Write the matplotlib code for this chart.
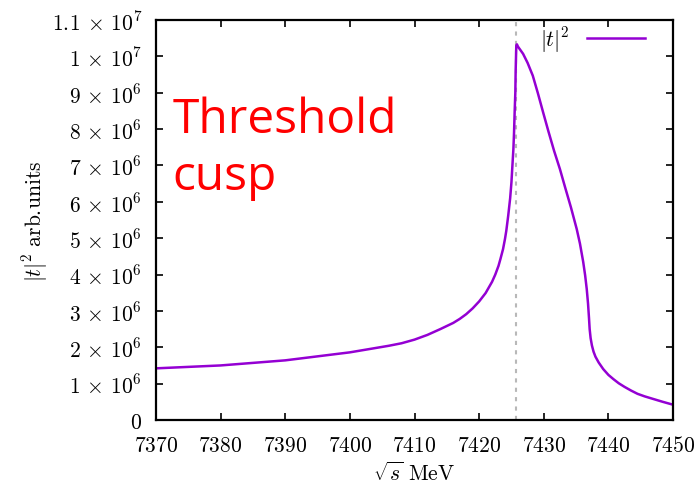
import matplotlib
matplotlib.use("Agg")
import matplotlib.pyplot as plt
from matplotlib.ticker import FixedLocator

plt.rcParams['mathtext.fontset'] = 'cm'
plt.rcParams['font.family'] = 'DejaVu Serif'

# sqrt(s) in MeV, |t|^2 in units of 1e6
energia = [7370, 7375, 7380, 7385, 7390, 7395, 7400, 7403, 7406, 7408,
           7410, 7412, 7414, 7416, 7417, 7418, 7419, 7420, 7421, 7422,
           7422.5, 7423, 7423.3, 7423.7, 7424.0, 7424.2, 7424.5, 7424.8,
           7425.0, 7425.15, 7425.3, 7425.4, 7425.5, 7425.6, 7425.65, 7425.75,
           7425.85, 7426.0, 7426.2, 7426.8, 7427.5, 7428.3, 7429.1, 7429.9,
           7430.7, 7431.6, 7432.5, 7433.3, 7434.2, 7435.1, 7435.6, 7436.1,
           7436.4, 7436.65, 7436.85, 7437.0, 7437.1, 7437.25, 7437.45, 7437.7,
           7438.0, 7438.5, 7439.2, 7440.0, 7440.8, 7441.6, 7442.5, 7443.5,
           7444.5, 7445.6, 7446.9, 7448.4, 7450]
t2 = [1.42, 1.46, 1.50, 1.57, 1.64, 1.75, 1.86, 1.95, 2.04, 2.11,
      2.21, 2.34, 2.50, 2.67, 2.78, 2.91, 3.07, 3.26, 3.49, 3.80,
      4.00, 4.24, 4.43, 4.70, 4.98, 5.20, 5.62, 6.10,
      6.54, 7.00, 7.45, 7.90, 8.50, 9.00, 9.60, 10.30,
      10.33, 10.27, 10.22, 10.07, 9.82, 9.47, 8.98, 8.46,
      7.95, 7.40, 6.90, 6.40, 5.85, 5.25, 4.85, 4.35,
      3.98, 3.60, 3.20, 2.80, 2.50, 2.25, 2.05, 1.88,
      1.74, 1.58, 1.40, 1.24, 1.12, 1.01, 0.91, 0.81,
      0.72, 0.65, 0.58, 0.50, 0.42]
t2 = [v * 1e6 for v in t2]

umbral = 7425.7
xticks = list(range(7370, 7451, 10))
yticks = [i * 1e6 for i in range(0, 12)]
ylabels = ['$0$'] + ['$%d\\,\\times\\,10^{6}$' % i for i in range(1, 10)] + \
          ['$1\\,\\times\\,10^{7}$', '$1.\\!1\\,\\times\\,10^{7}$']

fig = plt.figure(figsize=(6.97, 4.85), dpi=100)
ax = fig.add_axes([0.2238, 0.132, 0.7418, 0.8247])

ax.axvline(umbral, color='#b8b8b8', lw=1.5, ls=(0, (2, 2.5)))
ax.plot(energia, t2, color='#9400d3', lw=1.8, label='$|t|^2$')

ax.set_xlim(7370, 7450)
ax.set_ylim(0, 1.1e7)
ax.xaxis.set_major_locator(FixedLocator(xticks))
ax.set_xticklabels(['$%d$' % x for x in xticks])
ax.yaxis.set_major_locator(FixedLocator(yticks))
ax.set_yticklabels(ylabels)
ax.tick_params(direction='in', length=5, width=1.2, top=True, right=True,
               labelsize=15.5)
ax.tick_params(axis='x', pad=10)
ax.tick_params(axis='y', pad=10)
for s in ax.spines.values():
    s.set_linewidth(1.6)

ax.set_xlabel('$\\sqrt{s}\\ \\mathrm{MeV}$', fontsize=15.5, labelpad=4)
ax.set_ylabel('$|t|^2\\ \\mathrm{arb.\\!units}$', fontsize=15.5)
ax.yaxis.set_label_coords(-0.205, 0.5)

ax.legend(loc='upper right', frameon=False, markerfirst=False, fontsize=15.5,
          handlelength=2.7, borderaxespad=0.3, handletextpad=0.8,
          bbox_to_anchor=(0.975, 1.028))

ax.text(0.032, 0.72, 'Threshold', transform=ax.transAxes, color='red',
        fontsize=34.5, family='Open Sans')
ax.text(0.032, 0.577, 'cusp', transform=ax.transAxes, color='red',
        fontsize=34.5, family='Open Sans')

fig.savefig('out.png', dpi=100)
